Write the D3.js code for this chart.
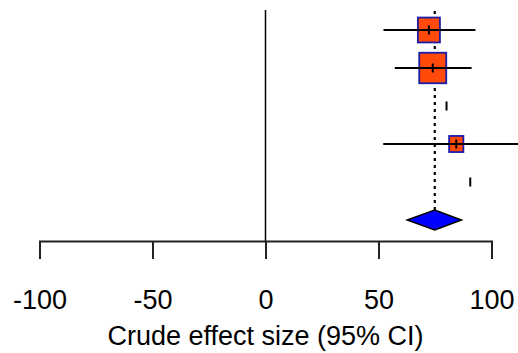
<!DOCTYPE html>
<html>
<head>
<meta charset="utf-8">
<script src="https://cdn.jsdelivr.net/npm/d3@7"></script>
<style>
  body { margin: 0; background: #fff; }
  text { font-family: "Liberation Sans", Arial, sans-serif; }
</style>
</head>
<body>
<svg id="chart" width="518" height="353"></svg>
<script>
// study estimates (crude effect size, 95% CI) and weights
var estimates = [ 72.3, 74.0, 80.1, 84.4, 90.6 ],
    lower     = [ 52.2, 57.2, 80.1, 52.1, 90.6 ],
    upper     = [ 92.9, 91.2, 80.1, 125, 90.6 ],
    weights   = [ 24, 36, 0, 10, 0 ];

// pooled estimate
var pooled = [ 62.7, 74.9, 86.7 ];

var tickValues = [ -100, -50, 0, 50, 100 ],
    xTitle = 'Crude effect size (95% CI)';

var svg = d3.select( '#chart' );

var x = d3.scaleLinear().domain( [ -100, 100 ] ).range( [ 39.5, 491.5 ] ),
    y = d3.scaleLinear().domain( [ -0.5, 5.5 ] ).range( [ 11, 239 ] ),
    side = d3.scaleSqrt().domain( [ 0, 36 ] ).range( [ 0, 27 ] );

var boxW = function( i ) { return side( weights[ i ] ); },
    boxH = function( i ) { return side( weights[ i ] ) * 1.13; };

// zero line
svg.append( 'line' )
    .attr( 'x1', x( 0 ) ).attr( 'x2', x( 0 ) )
    .attr( 'y1', 10 ).attr( 'y2', 241 )
    .attr( 'stroke', '#000' ).attr( 'stroke-width', 1.5 );

// dotted line at pooled estimate
svg.append( 'line' )
    .attr( 'x1', x( pooled[ 1 ] ) ).attr( 'x2', x( pooled[ 1 ] ) )
    .attr( 'y1', 11 ).attr( 'y2', y( 5 ) - 9 )
    .attr( 'stroke', '#000' ).attr( 'stroke-width', 2.2 )
    .attr( 'stroke-dasharray', '3,4' );

var rows = svg.append( 'g' ).selectAll( 'g' )
    .data( estimates )
    .join( 'g' );

// weighted boxes
rows.each( function( d, i ) {
    if( weights[ i ] <= 0 ) return;
    d3.select( this ).append( 'rect' )
        .attr( 'x', x( d ) - boxW( i ) / 2 )
        .attr( 'y', y( i ) - boxH( i ) / 2 )
        .attr( 'width', boxW( i ) )
        .attr( 'height', boxH( i ) )
        .attr( 'fill', '#ff4a0a' )
        .attr( 'stroke', '#1c1ca8' ).attr( 'stroke-width', 1.8 );
} );

// confidence intervals (drawn over the boxes)
rows.append( 'line' )
    .attr( 'x1', function( d, i ) { return x( lower[ i ] ); } )
    .attr( 'x2', function( d, i ) { return x( upper[ i ] ); } )
    .attr( 'y1', function( d, i ) { return y( i ); } )
    .attr( 'y2', function( d, i ) { return y( i ); } )
    .attr( 'stroke', '#000' ).attr( 'stroke-width', 2 );

// point estimate marks
rows.append( 'line' )
    .attr( 'x1', function( d ) { return x( d ); } )
    .attr( 'x2', function( d ) { return x( d ); } )
    .attr( 'y1', function( d, i ) { return y( i ) - 4.5; } )
    .attr( 'y2', function( d, i ) { return y( i ) + 4.5; } )
    .attr( 'stroke', '#000' ).attr( 'stroke-width', 2 );

// pooled diamond
var dy = y( 5 );
svg.append( 'path' )
    .attr( 'd', 'M' + x( pooled[ 0 ] ) + ',' + dy +
        'L' + x( pooled[ 1 ] ) + ',' + ( dy - 10 ) +
        'L' + x( pooled[ 2 ] ) + ',' + dy +
        'L' + x( pooled[ 1 ] ) + ',' + ( dy + 10 ) + 'Z' )
    .attr( 'fill', '#0000ff' )
    .attr( 'stroke', '#000' ).attr( 'stroke-width', 1.5 );

// x axis
var axis = svg.append( 'g' )
    .attr( 'transform', 'translate(0,241)' )
    .call( d3.axisBottom( x ).tickValues( tickValues ).tickSize( 18 ).tickFormat( d3.format( 'd' ) ) );

axis.select( '.domain' ).attr( 'stroke', '#222' ).attr( 'stroke-width', 2 );
axis.selectAll( '.tick line' ).attr( 'stroke', '#222' ).attr( 'stroke-width', 2 );
axis.selectAll( '.tick text' )
    .attr( 'y', 68 ).attr( 'dy', 0 )
    .attr( 'fill', '#000' )
    .style( 'font-size', '27px' )
    .style( 'font-family', '"Liberation Sans", Arial, sans-serif' )
    .text( function( d ) { return d < 0 ? '-' + Math.abs( d ) : d; } );

svg.append( 'text' )
    .attr( 'x', x( 0 ) ).attr( 'y', 345 )
    .attr( 'text-anchor', 'middle' )
    .style( 'font-size', '27px' )
    .text( xTitle );
</script>
</body>
</html>
